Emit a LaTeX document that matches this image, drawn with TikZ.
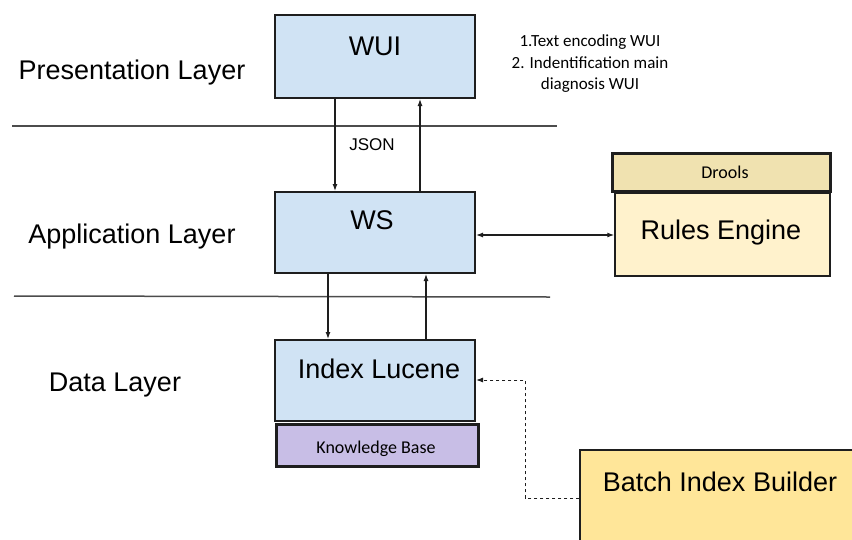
\documentclass[tikz,border=0pt]{standalone}
\usepackage{fontspec}
\setmainfont{Liberation Sans}
\newfontfamily\notefont{Carlito}
\usetikzlibrary{arrows.meta}

\definecolor{layerblue}{RGB}{208,227,244}
\definecolor{kbpurple}{RGB}{200,190,230}
\definecolor{droolsbg}{RGB}{240,226,176}
\definecolor{rulesbg}{RGB}{255,242,204}
\definecolor{batchbg}{RGB}{255,230,153}
\definecolor{edge}{RGB}{30,30,30}

\begin{document}
\begin{tikzpicture}[x=1pt,y=-1pt,
  box/.style={draw=edge, line width=2pt, rectangle, inner sep=0pt},
  thickbox/.style={draw=edge, line width=3pt, rectangle, inner sep=0pt},
  big/.style={font=\fontsize{27}{30}\selectfont},
  small/.style={font=\notefont\fontsize{18}{21}\selectfont},
  sep/.style={draw=black!70, line width=1.5pt},
  link/.style={draw=edge, line width=1.2pt, -{Latex[length=7pt,width=5pt]}}]
\useasboundingbox (0,0) rectangle (852,539);
% layer names
\node[big] (pres) at (132,73) {Presentation Layer};
\node[big] (app) at (132,237) {Application Layer};
\node[big] (data) at (115,385) {Data Layer};
% layer separators
\draw[sep] (12,126) -- (557,126);
\draw[sep] (14,296) -- (550,297);
% boxes
\node[box, fill=layerblue, minimum width=200pt, minimum height=83pt] (wui) at (375,56.5) {};
\node[big] (wuitext) at (375,46) {WUI};
\node[box, fill=layerblue, minimum width=200pt, minimum height=81pt] (ws) at (375,232.5) {};
\node[big] (wstext) at (372,220) {WS};
\node[box, fill=layerblue, minimum width=200pt, minimum height=81pt] (lucene) at (375,380.5) {};
\node[big] (lucenetext) at (379,369) {Index Lucene};
\node[thickbox, fill=kbpurple, minimum width=202pt, minimum height=42pt] (kb) at (377,445.5) {};
\node[small] (kbtext) at (376,449) {Knowledge Base};
\node[box, line width=1.5pt, fill=rulesbg, minimum width=215pt, minimum height=83pt] (rules) at (722.5,234.5) {};
\node[big] (rulestext) at (721,233) {Rules Engine};
\node[thickbox, fill=droolsbg, minimum width=218pt, minimum height=38pt] (drools) at (721,172) {};
\node[small] (droolstext) at (725,172) {Drools};
\node[box, line width=1.5pt, fill=batchbg, minimum width=280pt, minimum height=100pt] (batch) at (720,500) {};
\node[big] (batchtext) at (720,482) {Batch Index Builder};
% notes
\node[small, font=\notefont\fontsize{17}{21.5}\selectfont, align=center] (notes) at (590,64) {1.Text encoding WUI\\2. Indentification main\\diagnosis WUI};
\node[font=\fontsize{17}{20}\selectfont] (json) at (372,145) {JSON};
% connectors
\draw[link] (wui.south -| 335,0) -- (ws.north -| 335,0);
\draw[link] (ws.north -| 420,0) -- (wui.south -| 420,0);
\draw[link] (ws.south -| 328,0) -- (lucene.north -| 328,0);
\draw[link] (lucene.north -| 426,0) -- (ws.south -| 426,0);
\draw[link, {Latex[length=7pt,width=5pt]}-{Latex[length=7pt,width=5pt]}] (ws.east |- 0,235) -- (rules.west |- 0,235);
\draw[link, dashed, line width=1pt] (batch.west |- 0,498) -| (525,380) -- (lucene.east |- 0,380);
\end{tikzpicture}
\end{document}
